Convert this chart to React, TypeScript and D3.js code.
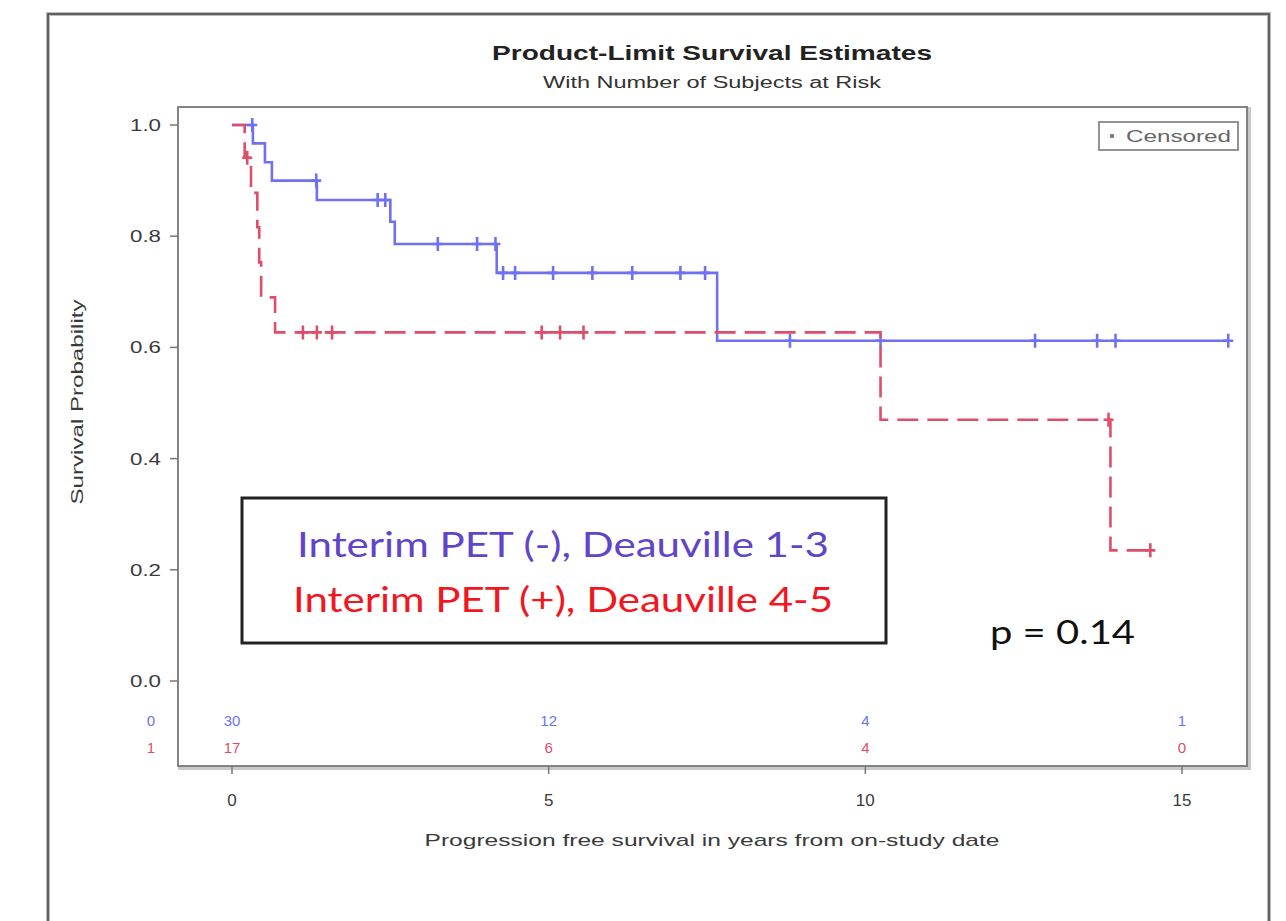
import React from "react";
import * as d3 from "d3";

// Kaplan-Meier step values (time in years, survival after the step)
const negSteps: [number, number][] = [
  [0, 1.0], [0.33, 0.967], [0.52, 0.933], [0.63, 0.9], [1.34, 0.865],
  [2.5, 0.826], [2.57, 0.786], [4.18, 0.734], [7.66, 0.612],
];
const negEnd = 15.75;
const negCensored = [
  0.32, 1.33, 2.3, 2.42, 3.25, 3.87, 4.16, 4.28, 4.47, 5.07, 5.69, 6.32,
  7.08, 7.47, 8.81, 10.24, 12.68, 13.66, 13.95, 15.73,
];

const posSteps: [number, number][] = [
  [0, 1.0], [0.2, 0.941], [0.3, 0.878], [0.4, 0.816], [0.43, 0.753],
  [0.46, 0.69], [0.68, 0.627], [10.24, 0.47], [13.87, 0.235],
];
const posEnd = 14.55;
const posCensored = [0.24, 1.12, 1.34, 1.58, 4.89, 5.18, 5.55, 13.84, 14.5];

const riskTimes = [0, 5, 10, 15];
const negAtRisk = [30, 12, 4, 1];
const posAtRisk = [17, 6, 4, 0];

const xTicks = [0, 5, 10, 15];
const yTicks = [0, 0.2, 0.4, 0.6, 0.8, 1.0];

const BLUE = "#7070f2";
const RED = "#df4d69";
const FONT = "'Liberation Sans', Arial, sans-serif";
const LEG_FONT = "Lato, 'Open Sans', sans-serif";
const AXIS_TEXT = "#3a3a3a";

const frame = { left: 178, top: 107, right: 1247, bottom: 766 };

const x = d3.scaleLinear().domain([0, 15]).range([232, 1182]);
const y = d3.scaleLinear().domain([0, 1]).range([681, 125]);

function survAt(steps: [number, number][], t: number) {
  let s = steps[0][1];
  for (const [ti, si] of steps) if (ti <= t) s = si;
  return s;
}

const stepLine = d3
  .line<[number, number]>()
  .x((d) => x(d[0]))
  .y((d) => y(d[1]))
  .curve(d3.curveStepAfter);

function curvePath(steps: [number, number][], end: number) {
  const pts: [number, number][] = [...steps, [end, steps[steps.length - 1][1]]];
  return stepLine(pts) || "";
}

function Censor({ cx, cy, color }: { cx: number; cy: number; color: string }) {
  return (
    <path
      d={`M${cx},${cy - 7}V${cy + 7}M${cx - 5},${cy}H${cx + 5}`}
      stroke={color}
      strokeWidth={2.6}
      fill="none"
    />
  );
}

export default function App() {
  return (
    <svg
      width={1286}
      height={921}
      style={{ position: "absolute", left: 0, top: 0, background: "#fff" }}
    >
      {/* outer frame */}
      <path d="M48,921V14H1269V921" fill="none" stroke="#bbb" strokeWidth={4} />
      <path d="M48,921V14H1269V921" fill="none" stroke="#444" strokeWidth={1.5} />

      {/* titles */}
      <text x={712} y={60} textAnchor="middle" fontFamily={FONT} fontWeight="bold"
        fontSize={21} fill="#222" textLength={440} lengthAdjust="spacingAndGlyphs">
        Product-Limit Survival Estimates
      </text>
      <text x={712} y={88} textAnchor="middle" fontFamily={FONT} fontSize={16}
        fill="#333" textLength={338} lengthAdjust="spacingAndGlyphs">
        With Number of Subjects at Risk
      </text>

      {/* plot frame with shadow */}
      <rect x={frame.left + 2} y={frame.top + 2} width={frame.right - frame.left}
        height={frame.bottom - frame.top} fill="none" stroke="#c8c8c8" strokeWidth={4} />
      <rect x={frame.left} y={frame.top} width={frame.right - frame.left}
        height={frame.bottom - frame.top} fill="#fff" stroke="#777" strokeWidth={1.8} />

      {/* y axis */}
      {yTicks.map((t) => (
        <g key={"y" + t}>
          <line x1={frame.left - 8} x2={frame.left} y1={y(t)} y2={y(t)} stroke="#777" strokeWidth={1.5} />
          <text x={frame.left - 17} y={y(t) + 6} textAnchor="end" fontFamily={FONT}
            fontSize={17} fill={AXIS_TEXT} textLength={31} lengthAdjust="spacingAndGlyphs">
            {t.toFixed(1)}
          </text>
        </g>
      ))}
      <text transform="translate(83,402) rotate(-90)" textAnchor="middle" fontFamily={FONT}
        fontSize={16} fill={AXIS_TEXT} textLength={205} lengthAdjust="spacingAndGlyphs">
        Survival Probability
      </text>

      {/* x axis */}
      {xTicks.map((t) => (
        <g key={"x" + t}>
          <line x1={x(t)} x2={x(t)} y1={frame.bottom} y2={frame.bottom + 8} stroke="#777" strokeWidth={1.5} />
          <text x={x(t)} y={frame.bottom + 40} textAnchor="middle" fontFamily={FONT}
            fontSize={17} fill={AXIS_TEXT}>
            {t}
          </text>
        </g>
      ))}
      <text x={712} y={846} textAnchor="middle" fontFamily={FONT} fontSize={17}
        fill={AXIS_TEXT} textLength={575} lengthAdjust="spacingAndGlyphs">
        Progression free survival in years from on-study date
      </text>

      {/* number at risk */}
      <text x={151} y={726} textAnchor="middle" fontFamily={FONT} fontSize={15} fill={BLUE}>0</text>
      <text x={151} y={753} textAnchor="middle" fontFamily={FONT} fontSize={15} fill={RED}>1</text>
      {riskTimes.map((t, i) => (
        <g key={"r" + t}>
          <text x={x(t)} y={726} textAnchor="middle" fontFamily={FONT} fontSize={15} fill={BLUE}>
            {negAtRisk[i]}
          </text>
          <text x={x(t)} y={753} textAnchor="middle" fontFamily={FONT} fontSize={15} fill={RED}>
            {posAtRisk[i]}
          </text>
        </g>
      ))}

      {/* survival curves */}
      <path d={curvePath(negSteps, negEnd)} fill="none" stroke={BLUE} strokeWidth={2.6} />
      {negCensored.map((t, i) => (
        <Censor key={"nc" + i} cx={x(t)} cy={y(survAt(negSteps, t))} color={BLUE} />
      ))}
      <path d={curvePath(posSteps, posEnd)} fill="none" stroke={RED} strokeWidth={2.6}
        strokeDasharray="21,9" />
      {posCensored.map((t, i) => (
        <Censor key={"pc" + i} cx={x(t)} cy={y(survAt(posSteps, t))} color={RED} />
      ))}

      {/* censored legend */}
      <rect x={1099} y={122} width={139} height={28} fill="#fff" stroke="#888" strokeWidth={1.8} />
      <circle cx={1112} cy={136} r={2.2} fill="#777" />
      <text x={1126} y={142} fontFamily={FONT} fontSize={16} fill="#666"
        textLength={105} lengthAdjust="spacingAndGlyphs">
        Censored
      </text>

      {/* group legend box */}
      <rect x={242} y={498} width={644} height={145} fill="#fff" stroke="#222" strokeWidth={3} />
      <text x={563} y={557} textAnchor="middle" fontFamily={LEG_FONT} fontSize={34}
        fill="#6145c8" textLength={532} lengthAdjust="spacingAndGlyphs">
        Interim PET (-), Deauville 1-3
      </text>
      <text x={563} y={612} textAnchor="middle" fontFamily={LEG_FONT} fontSize={34}
        fill="#f2161e" textLength={540} lengthAdjust="spacingAndGlyphs">
        Interim PET (+), Deauville 4-5
      </text>

      <text x={990} y={644} fontFamily={LEG_FONT} fontSize={32} fill="#111"
        textLength={145} lengthAdjust="spacingAndGlyphs">
        p = 0.14
      </text>
    </svg>
  );
}
